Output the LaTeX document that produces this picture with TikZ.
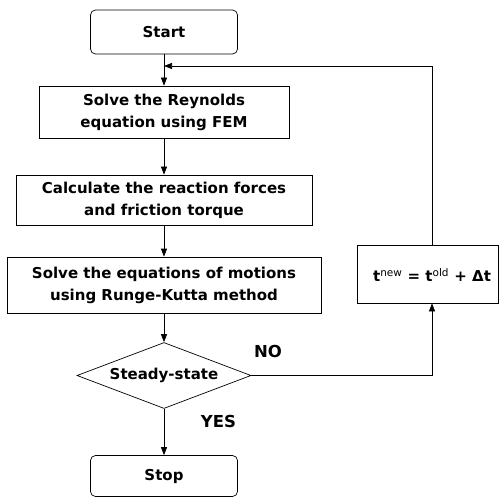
\documentclass[tikz,border=0pt]{standalone}
\usepackage{fontspec}
\setmainfont{DejaVu Sans}
\usetikzlibrary{arrows.meta,shapes.geometric}
\begin{document}
\begin{tikzpicture}[x=1pt,y=-1pt,
  every node/.style={font=\bfseries\fontsize{15}{22}\selectfont, align=center, inner sep=0pt},
  term/.style={draw, rounded corners=5pt, minimum width=147pt, minimum height=44pt, line width=0.7pt},
  proc/.style={draw, line width=0.7pt},
  dec/.style={draw, diamond, aspect=2.6, minimum width=174pt, minimum height=66pt, line width=0.7pt},
  lab/.style={font=\bfseries\fontsize{16.5}{20}\selectfont},
  conn/.style={line width=0.7pt, -{Triangle[length=8pt,width=6pt]}},
  line/.style={line width=0.7pt}]
\useasboundingbox (0,0) rectangle (500,497);
\node[term] (start) at (164,32) {Start};
\node[proc, minimum width=250pt, minimum height=52pt] (b1) at (164,112) {Solve the Reynolds\\equation using FEM};
\node[proc, minimum width=296pt, minimum height=50pt] (b2) at (164,200) {Calculate the reaction forces\\and friction torque};
\node[proc, minimum width=314pt, minimum height=56pt] (b3) at (164,285) {Solve the equations of motions\\using Runge-Kutta method};
\node[dec] (d) at (164,375.5) {Steady-state};
\node[term, minimum height=41pt] (stop) at (164,476) {Stop};
\node[proc, minimum width=141pt, minimum height=58pt] (fb) at (428,274) {};
\node (fbt) at (432,275) {t\textsuperscript{\mdseries new} = t\textsuperscript{\mdseries old} + Δt};
\node[lab] (no) at (268,351) {NO};
\node[lab] (yes) at (218.5,421) {YES};
\coordinate (c1) at (432,375.5);
\coordinate (c2) at (432,66);
\coordinate (c3) at (164,66);
\draw[conn] (start) -- (b1);
\draw[conn] (b1) -- (b2);
\draw[conn] (b2) -- (b3);
\draw[conn] (b3) -- (d);
\draw[conn] (d) -- (stop);
\draw[line] (d.east) -- (c1);
\draw[conn] (c1) -- (fb.south -| c1);
\draw[line] (fb.north -| c2) -- (c2);
\draw[conn] (c2) -- (c3);
\end{tikzpicture}
\end{document}
